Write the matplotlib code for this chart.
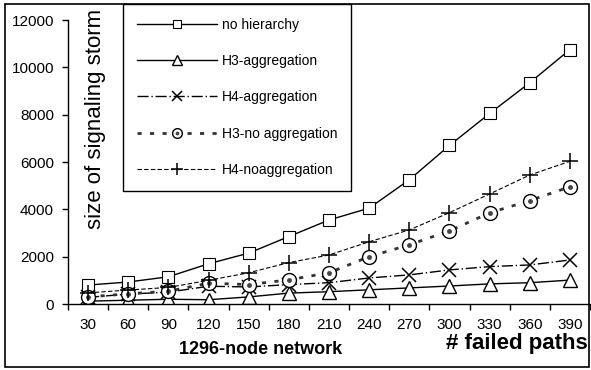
import matplotlib
matplotlib.use("Agg")
import matplotlib.pyplot as plt
from matplotlib.patches import Rectangle
from matplotlib.legend_handler import HandlerTuple
import numpy as np

plt.rcParams['font.family'] = ['Liberation Sans', 'DejaVu Sans']

failed_paths = [30, 60, 90, 120, 150, 180, 210, 240, 270, 300, 330, 360, 390]
no_hierarchy = [800, 930, 1150, 1700, 2150, 2850, 3550, 4050, 5250, 6700, 8050, 9350, 10750]
h3_aggregation = [120, 160, 200, 180, 300, 460, 520, 600, 680, 760, 850, 900, 1010]
h4_aggregation = [280, 420, 500, 750, 720, 820, 900, 1100, 1230, 1440, 1580, 1650, 1860]
h3_no_aggregation = [300, 430, 540, 880, 820, 1020, 1320, 2000, 2500, 3090, 3850, 4370, 4950]
h4_noaggregation = [470, 590, 700, 1000, 1320, 1750, 2070, 2630, 3130, 3860, 4650, 5450, 6030]
y_ticks = [0, 2000, 4000, 6000, 8000, 10000, 12000]

W, H = 591, 370
fig = plt.figure(figsize=(W / 100, H / 100), dpi=100)
ax = fig.add_axes([68 / W, 1 - 304 / H, (590 - 68) / W, (304 - 20) / H])

xpos = np.arange(len(failed_paths))
ms = 9
l1, = ax.plot(xpos, no_hierarchy, color='black', lw=1.0, marker='s', ms=ms,
              mfc='white', mec='black', mew=0.8, label='no hierarchy')
l2, = ax.plot(xpos, h3_aggregation, color='black', lw=1.0, marker='^', ms=ms + 1,
              mfc='white', mec='black', mew=1.0, label='H3-aggregation')
l3, = ax.plot(xpos, h4_aggregation, color='black', lw=1.0, ls=(0, (8, 2, 1, 2)),
              marker='x', ms=ms + 1, mew=1.1, label='H4-aggregation')
l4, = ax.plot(xpos, h3_no_aggregation, color='#333333', lw=2.0, ls=(0, (1.5, 3)),
              marker='o', ms=ms + 1, mfc='white', mec='black', mew=1.0,
              label='H3-no aggregation')
l4b, = ax.plot(xpos, h3_no_aggregation, ls='none', marker='o', ms=2.5,
               color='#444444')
l5, = ax.plot(xpos, h4_noaggregation, color='black', lw=0.8, ls=(0, (4, 2)),
              marker='+', ms=ms + 3, mew=1.1, label='H4-noaggregation')

ax.set_xlim(-0.5, len(failed_paths) - 0.5)
ax.set_ylim(0, 12000)
ax.set_yticks(y_ticks)
ax.set_yticklabels([str(v) for v in y_ticks])
ax.set_xticks(xpos)
ax.set_xticklabels([str(v) for v in failed_paths])
ax.set_xticks(np.arange(-0.5, len(failed_paths), 1.0), minor=True)
ax.tick_params(axis='x', which='major', length=0, pad=10, labelsize=11)
ax.tick_params(axis='x', which='minor', length=4, width=1, direction='out')
ax.tick_params(axis='y', which='major', length=4, width=1, direction='out',
               pad=6, labelsize=11)
for s in ['top', 'right']:
    ax.spines[s].set_visible(False)
for s in ['left', 'bottom']:
    ax.spines[s].set_linewidth(1.0)
    ax.spines[s].set_color('black')

fig.text(95 / W, 1 - 119 / H, 'size of signaling storm', rotation=90,
         ha='center', va='center', fontsize=16)
fig.text(261 / W, 1 - 350 / H, '1296-node network', ha='center', va='center',
         fontsize=13, fontweight='bold')
fig.text(588 / W, 1 - 343 / H, '# failed paths', ha='right', va='center',
         fontsize=16, fontweight='bold')

leg = fig.legend([l1, l2, l3, (l4, l4b), l5],
                 ['no hierarchy', 'H3-aggregation', 'H4-aggregation',
                  'H3-no aggregation', 'H4-noaggregation'],
                 handler_map={tuple: HandlerTuple(ndivide=1)},
                 loc='upper left', bbox_to_anchor=(123 / W, 1 - 4 / H),
                 borderaxespad=0, fontsize=10, handlelength=5.8,
                 handletextpad=0.3, labelspacing=1.6, borderpad=1.0,
                 fancybox=False, markerscale=0.7, framealpha=1)
leg.get_frame().set_edgecolor('black')
leg.get_frame().set_linewidth(1.0)

fig.patches.append(Rectangle((5 / W, 1 - 367 / H), 584 / W, 363 / H,
                             transform=fig.transFigure, fill=False,
                             edgecolor='black', lw=1.2))

fig.savefig('out.png', dpi=100)
